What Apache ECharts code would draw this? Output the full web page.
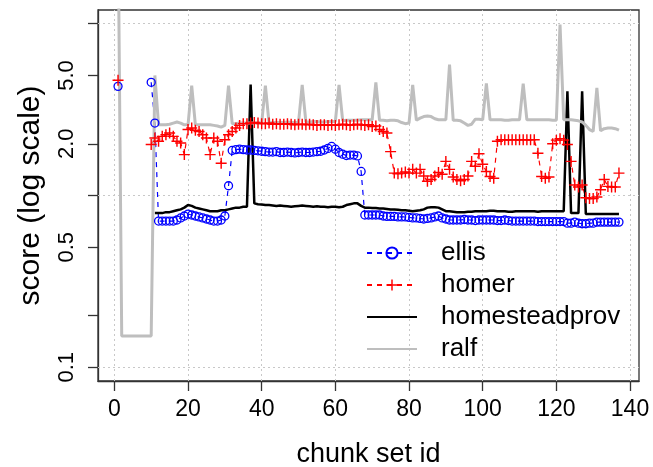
<!DOCTYPE html>
<html><head><meta charset="utf-8">
<script src="https://cdn.jsdelivr.net/npm/echarts@6/dist/echarts.min.js"></script>
<style>html,body{margin:0;padding:0;background:#fff}#c{width:653px;height:467px}</style>
</head><body><div id="c"></div>
<script>
const chunkIds = [];
for (let i = 1; i <= 137; i++) chunkIds.push(i);

const xTicks = [0, 20, 40, 60, 80, 100, 120, 140];
const yTicks = [0.1, 0.2, 0.5, 1, 2, 5, 10];
const yLabels = [0.1, 0.5, 2, 5];
const yGrid = [0.1, 1, 10];
const seriesNames = ['ellis', 'homer', 'homesteadprov', 'ralf'];

const ellis = [4.32,
  null,null,null,null,null,null,null,null,
  4.56,2.64,
  0.71,0.71,0.71,0.71,0.71,0.72,0.74,0.76,0.78,
  0.77,0.76,0.75,0.74,0.73,0.72,0.71,0.71,0.72,0.76,
  1.14,1.83,1.85,1.86,1.85,1.84,1.84,1.83,1.82,1.81,
  1.8,1.79,1.79,1.8,1.78,1.78,1.79,1.78,1.77,1.78,
  1.79,1.78,1.78,1.79,1.8,1.81,1.84,1.88,1.93,1.86,
  1.78,1.74,1.71,1.72,1.72,1.7,1.38,0.77,0.77,0.77,
  0.77,0.77,0.76,0.755,0.755,0.755,0.75,0.75,0.75,0.745,
  0.74,0.74,0.735,0.73,0.735,0.74,0.75,0.76,0.74,0.73,
  0.72,0.72,0.72,0.72,0.725,0.72,0.72,0.715,0.72,0.72,
  0.72,0.72,0.72,0.715,0.715,0.72,0.715,0.71,0.71,0.71,
  0.71,0.71,0.71,0.71,0.705,0.705,0.705,0.705,0.705,0.705,
  0.705,0.705,0.69,0.69,0.7,0.69,0.685,0.685,0.69,0.69,
  0.7,0.7,0.7,0.7,0.7,0.7,0.7];

const homer = [4.69,
  null,null,null,null,null,null,null,null,
  1.98,
  2.16,2.07,2.21,2.26,2.31,2.21,2.07,2.02,1.73,2.42,
  2.47,2.4,2.36,2.26,2.16,1.73,2.16,2.07,1.54,2.11,
  2.26,2.36,2.47,2.56,2.62,2.62,2.64,2.66,2.64,2.62,
  2.62,2.64,2.6,2.62,2.6,2.6,2.62,2.6,2.58,2.6,
  2.6,2.58,2.6,2.58,2.56,2.58,2.58,2.56,2.58,2.56,
  2.58,2.6,2.58,2.56,2.58,2.6,2.58,2.56,2.58,2.52,
  2.54,2.42,2.36,2.31,1.8,1.35,1.34,1.35,1.37,1.35,
  1.42,1.35,1.42,1.3,1.21,1.24,1.3,1.36,1.33,1.58,
  1.42,1.28,1.24,1.22,1.24,1.3,1.58,1.48,1.75,1.52,
  1.38,1.29,1.26,2.07,2.11,2.11,2.11,2.11,2.11,2.11,
  2.11,2.11,2.11,2.11,1.76,1.29,1.26,1.28,2.0,2.1,
  2.14,2.1,1.98,1.58,1.15,1.12,1.15,0.97,0.96,0.96,
  0.98,1.08,1.24,1.13,1.12,1.12,1.35];

const homesteadprov = [null,null,null,null,null,null,null,null,null,null,
  0.79,0.79,0.79,0.8,0.8,0.81,0.82,0.83,0.85,0.88,
  0.87,0.85,0.84,0.83,0.82,0.81,0.81,0.81,0.82,0.82,
  0.83,0.84,0.85,0.85,0.86,0.86,4.42,0.9,0.89,0.885,
  0.88,0.88,0.875,0.87,0.875,0.87,0.865,0.86,0.865,0.87,
  0.875,0.87,0.865,0.86,0.865,0.86,0.86,0.855,0.86,0.86,
  0.855,0.86,0.88,0.89,0.9,0.9,0.87,0.85,0.85,0.845,
  0.845,0.84,0.84,0.835,0.83,0.83,0.825,0.82,0.82,0.815,
  0.81,0.815,0.82,0.83,0.85,0.855,0.855,0.85,0.83,0.81,
  0.81,0.805,0.8,0.8,0.8,0.805,0.805,0.81,0.81,0.81,
  0.81,0.815,0.815,0.81,0.81,0.81,0.805,0.805,0.81,0.81,
  0.81,0.81,0.81,0.81,0.805,0.81,0.81,0.81,0.81,0.81,
  0.81,0.81,4.04,0.79,0.79,0.79,4.04,0.78,0.78,0.78,
  0.78,0.78,0.78,0.78,0.78,0.78,0.78];

const ralf = [40,
  0.152,0.152,0.152,0.152,0.152,0.152,0.152,0.152,0.152,
  5.0,
  2.58,2.58,2.58,2.6,2.64,2.68,2.64,2.58,2.58,
  4.36,
  2.58,2.58,2.58,2.58,2.58,2.56,2.54,2.5,2.56,
  4.36,
  2.62,2.62,2.64,2.64,2.64,2.64,2.64,2.64,2.64,
  4.36,
  2.64,2.66,2.66,2.66,2.66,2.68,2.66,2.66,2.66,
  4.4,
  2.68,2.68,2.7,2.7,2.68,2.68,2.7,2.7,2.7,
  4.4,
  2.72,2.74,2.74,2.74,2.74,2.76,2.76,2.76,2.76,
  4.56,
  2.74,2.74,2.72,2.74,2.74,2.72,2.66,2.62,2.64,
  4.4,
  2.74,2.82,2.88,2.9,2.88,2.8,2.76,2.76,2.76,
  5.78,
  2.74,2.74,2.72,2.64,2.56,2.6,2.78,2.78,2.76,
  4.5,
  2.76,2.76,2.76,2.76,2.74,2.74,2.76,2.76,2.76,
  4.48,
  2.76,2.76,2.76,2.76,2.76,2.76,2.76,2.74,2.74,
  9.9,
  2.76,2.76,2.76,2.74,2.72,2.68,2.56,2.42,2.36,
  4.23,
  2.38,2.45,2.47,2.47,2.45,2.4];

const FONT = 'Liberation Sans, Arial, Helvetica, sans-serif';
const pairs = arr => chunkIds.map((x, i) => [x, arr[i]]);
const crossPath = 'path://M-0.65,-5h1.3v10h-1.3ZM-5,-0.65h10v1.3h-10Z';
const noSymbol = {color: 'rgba(0,0,0,0)', borderColor: 'rgba(0,0,0,0)', borderWidth: 0};

const chart = echarts.init(document.getElementById('c'), null, {renderer: 'canvas'});
chart.setOption({
  animation: false,
  backgroundColor: '#fff',
  grid: {left: 98, right: 14, top: 10, bottom: 86, show: true, borderColor: '#333', borderWidth: 1.3,
         backgroundColor: 'transparent', outerBoundsMode: 'none', containLabel: false},
  legend: {
    data: [
      {name: seriesNames[0]},
      {name: seriesNames[1]},
      {name: seriesNames[2], itemStyle: noSymbol},
      {name: seriesNames[3], itemStyle: noSymbol}
    ],
    orient: 'vertical', left: 361, top: 235,
    itemWidth: 50, itemHeight: 14, itemGap: 6, selectedMode: false,
    textStyle: {fontSize: 26, color: '#000', fontFamily: FONT, padding: [0, 0, 0, 19]}
  },
  xAxis: {
    type: 'value', min: -4.44, max: 142.44,
    name: 'chunk set id', nameLocation: 'middle', nameGap: 60,
    nameTextStyle: {fontSize: 27, color: '#000', fontFamily: FONT},
    axisLine: {show: true, onZero: false, lineStyle: {color: '#333', width: 1.3}},
    axisTick: {show: true, length: 10, customValues: xTicks, lineStyle: {color: '#333', width: 1.3}},
    axisLabel: {customValues: xTicks, fontSize: 23, color: '#000', margin: 17, fontFamily: FONT},
    splitLine: {show: false}
  },
  yAxis: {
    type: 'log', logBase: 10, min: 0.0832, max: 12.02,
    name: 'score (log scale)', nameLocation: 'middle', nameGap: 52,
    nameTextStyle: {fontSize: 30, color: '#000', fontFamily: FONT},
    axisLine: {show: true, onZero: false, lineStyle: {color: '#333', width: 1.3}},
    axisTick: {show: true, length: 10, customValues: yTicks, lineStyle: {color: '#333', width: 1.3}},
    axisLabel: {customValues: yLabels, rotate: 90, fontSize: 22, color: '#000', margin: 20, fontFamily: FONT,
                formatter: v => Number(v).toFixed(1)},
    splitLine: {show: false}
  },
  series: [
    {
      name: 'grid', type: 'line', data: [], silent: true, z: 1,
      markLine: {
        silent: true, symbol: 'none', z: 1, animation: false,
        label: {show: false},
        lineStyle: {color: '#c8c8c8', type: [2, 3], width: 1},
        data: xTicks.map(v => ({xAxis: v})).concat(yGrid.map(v => ({yAxis: v})))
      }
    },
    {
      name: 'ellis', type: 'line', data: pairs(ellis), z: 3,
      symbol: 'circle', symbolSize: 8, showSymbol: true,
      itemStyle: {color: 'rgba(0,0,0,0)', borderColor: '#0000ff', borderWidth: 1.3},
      lineStyle: {color: '#0000ff', width: 1.2, type: [5, 5]}
    },
    {
      name: 'homer', type: 'line', data: pairs(homer), z: 3,
      symbol: crossPath, symbolSize: 11, showSymbol: true,
      itemStyle: {color: '#ff0000'},
      lineStyle: {color: '#ff0000', width: 1.2, type: [5, 5]}
    },
    {
      name: 'homesteadprov', type: 'line', data: pairs(homesteadprov), z: 3,
      symbol: 'none', itemStyle: {color: '#000'},
      lineStyle: {color: '#000', width: 2.5}
    },
    {
      name: 'ralf', type: 'line', data: pairs(ralf), z: 3,
      symbol: 'none', itemStyle: {color: '#bebebe'},
      lineStyle: {color: '#bebebe', width: 3}
    }
  ]
});
</script></body></html>
